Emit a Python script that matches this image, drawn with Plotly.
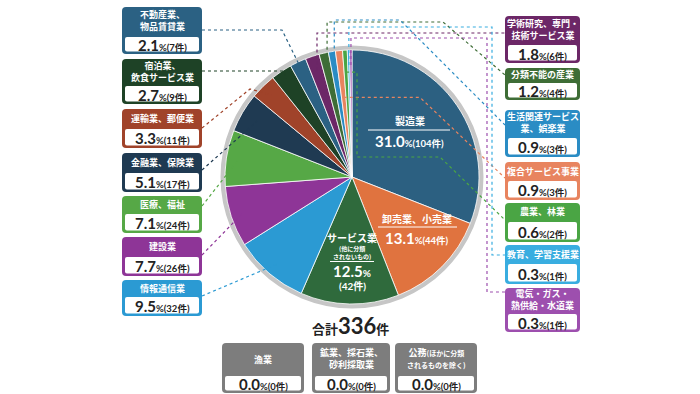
import math
import plotly.graph_objects as go

# ---------------- data ----------------
industries = ["製造業", "卸売業、小売業", "サービス業（他に分類されないもの）", "情報通信業", "建設業",
              "医療、福祉", "金融業、保険業", "運輸業、郵便業", "宿泊業、飲食サービス業",
              "不動産業、物品賃貸業", "学術研究、専門・技術サービス業", "分類不能の産業",
              "生活関連サービス業、娯楽業", "複合サービス事業", "農業、林業", "教育、学習支援業",
              "電気・ガス・熱供給・水道業"]
counts = [104, 44, 42, 32, 26, 24, 17, 11, 9, 7, 6, 4, 3, 3, 2, 1, 1]
percents = ["31.0", "13.1", "12.5", "9.5", "7.7", "7.1", "5.1", "3.3", "2.7", "2.1", "1.8", "1.2",
            "0.9", "0.9", "0.6", "0.3", "0.3"]
colors = ["#2c6081", "#e0733f", "#2f6a3c", "#2b9ad3", "#8e3597", "#56a846", "#1f3a52", "#a0432a",
          "#1e4226", "#2b6183", "#6c2767", "#3e6d36", "#2a8cc4", "#e8845f", "#4aa544", "#39ade0",
          "#9d4fae"]
box_titles = {
    3: ["情報通信業"], 4: ["建設業"], 5: ["医療、福祉"], 6: ["金融業、保険業"], 7: ["運輸業、郵便業"],
    8: ["宿泊業、", "飲食サービス業"], 9: ["不動産業、", "物品賃貸業"],
    10: ["学術研究、専門・", "技術サービス業"], 11: ["分類不能の産業"],
    12: ["生活関連サービス", "業、娯楽業"], 13: ["複合サービス事業"], 14: ["農業、林業"],
    15: ["教育、学習支援業"], 16: ["電気・ガス・", "熱供給・水道業"],
}
zero_titles = [["漁業"], ["鉱業、採石業、", "砂利採取業"],
               ["公務<span style='font-size:7px'>(ほかに分類</span>",
                "<span style='font-size:7px'>されるものを除く)</span>"]]
zero_pct = ["0.0", "0.0", "0.0"]
zero_counts = [0, 0, 0]
total = sum(counts)

W, H = 700, 394
CX, CY, R = 352, 177, 127

def px(x):
    return x / W

def py(y):
    return 1 - y / H

def rrect(x0, y0, x1, y1, r):
    pts = [
        ("M", [(x0 + r, y0)]), ("L", [(x1 - r, y0)]), ("Q", [(x1, y0), (x1, y0 + r)]),
        ("L", [(x1, y1 - r)]), ("Q", [(x1, y1), (x1 - r, y1)]), ("L", [(x0 + r, y1)]),
        ("Q", [(x0, y1), (x0, y1 - r)]), ("L", [(x0, y0 + r)]), ("Q", [(x0, y0), (x0 + r, y0)]),
    ]
    s = ""
    for cmd, ps in pts:
        s += cmd + " " + " ".join(f"{px(a):.5f},{py(b):.5f}" for a, b in ps) + " "
    return s + "Z"

cum = []
acc = 0
for c in counts:
    cum.append((acc + c / 2) / total)
    acc += c

def slice_pt(i, r):
    t = 2 * math.pi * cum[i]
    return (CX + r * math.sin(t), CY - r * math.cos(t))

fig = go.Figure()
fig.add_trace(go.Pie(
    values=counts, labels=industries, sort=False, direction="clockwise", rotation=0,
    marker=dict(colors=colors, line=dict(color="white", width=0.8)),
    textinfo="none", hoverinfo="label+value+percent",
    domain=dict(x=[px(CX - R), px(CX + R)], y=[py(CY + R), py(CY - R)]),
    showlegend=False,
))

shapes = []
annotations = []

# gray ring behind the pie
shapes.append(dict(type="circle", xref="paper", yref="paper", layer="below",
                   x0=px(CX - R - 4.5), x1=px(CX + R + 4.5), y0=py(CY + R + 4.5), y1=py(CY - R - 4.5),
                   fillcolor="#c6c6c6", line=dict(width=0)))

NUM_FONT = "Lato, 'Noto Sans CJK JP', sans-serif"
JP_FONT = "'Noto Sans CJK JP', sans-serif"

def add_box(x0, y0, x1, y1, wtop, color, title_lines, pct, cnt, tsize=9):
    shapes.append(dict(type="path", xref="paper", yref="paper", path=rrect(x0, y0, x1, y1, 4),
                       fillcolor=color, line=dict(width=0)))
    shapes.append(dict(type="path", xref="paper", yref="paper",
                       path=rrect(x0 + 3, wtop, x1 - 3, y1 - 2.5, 2),
                       fillcolor="white", line=dict(width=0)))
    tc = (y0 + wtop) / 2 - (1.5 if len(title_lines) > 1 else 0.5)
    title = "<br>".join(f"<b>{line}</b>" for line in title_lines)
    annotations.append(dict(x=px((x0 + x1) / 2), y=py(tc), xref="paper", yref="paper",
                            text=title, showarrow=False,
                            font=dict(family=JP_FONT, size=tsize, color="white"),
                            xanchor="center", yanchor="middle"))
    annotations.append(dict(x=px((x0 + x1) / 2), y=py((wtop + y1 - 2.5) / 2 + 0.8), xref="paper",
                            yref="paper",
                            text=f"<b>{pct}</b><span style='font-size:9.5px'><b>%({cnt}件)</b></span>",
                            showarrow=False, font=dict(family=NUM_FONT, size=15, color="#222222"),
                            xanchor="center", yanchor="middle"))

# left column boxes: (index, top, bottom, white top)
left_boxes = [(9, 7, 54, 37), (8, 59, 104, 86), (7, 109, 148, 129), (6, 153, 192, 173),
              (5, 196, 233, 214), (4, 237, 276, 257), (3, 280, 316, 297)]
for i, t, b, w in left_boxes:
    add_box(122, t, 202, b, w, colors[i], box_titles[i], percents[i], counts[i])

right_boxes = [(10, 16, 63, 45), (11, 68, 100, 83), (12, 110, 157, 138), (13, 162, 200, 181),
               (14, 203, 242, 222), (15, 245, 284, 264), (16, 288, 332, 314)]
for i, t, b, w in right_boxes:
    add_box(505, t, 580, b, w, colors[i], box_titles[i], percents[i], counts[i])

zero_x = [(222, 304), (312, 390), (395, 477)]
for (x0, x1), tl, p, c in zip(zero_x, zero_titles, zero_pct, zero_counts):
    add_box(x0, 343, x1, 393, 376, "#7d7d7d", tl, p, c)

# connectors
def connector(i, pts):
    d = "M " + " L ".join(f"{px(a):.5f},{py(b):.5f}" for a, b in pts)
    shapes.append(dict(type="path", xref="paper", yref="paper", path=d,
                       line=dict(color=colors[i], width=1.2, dash="dot")))

connector(9, [(202, 30), (282, 30), slice_pt(9, 120)])
connector(8, [(202, 71), (284, 71), slice_pt(8, 118)])
connector(7, [(202, 128), (250, 89), slice_pt(7, 115)])
connector(6, [(202, 170), slice_pt(6, 110)])
connector(5, [(202, 206), slice_pt(5, 115)])
connector(4, [(202, 255), slice_pt(4, 115)])
connector(3, [(202, 296), slice_pt(3, 115)])

p = slice_pt(10, 112)
connector(10, [p, (p[0], 33), (505, 33)])
p = slice_pt(11, 112)
connector(11, [p, (p[0], 22), (443, 22), (505, 75)])
p = slice_pt(12, 112)
connector(12, [p, (p[0], 20), (400, 20), (505, 125)])
p = slice_pt(13, 80)
connector(13, [p, (420, p[1]), (505, 178)])
p = slice_pt(14, 105)
connector(14, [p, (357, p[1]), (357, 157), (440, 157), (505, 220)])
p = slice_pt(15, 112)
connector(15, [p, (p[0], 27), (492, 27), (492, 255), (505, 255)])
p = slice_pt(16, 112)
connector(16, [p, (p[0], 38), (487, 38), (487, 292), (505, 292)])

# labels inside the pie
def white_line(x0, x1, y):
    shapes.append(dict(type="line", xref="paper", yref="paper", x0=px(x0), x1=px(x1),
                       y0=py(y), y1=py(y), line=dict(color="white", width=1)))

def txt(x, y, s, size, family=JP_FONT, color="white"):
    annotations.append(dict(x=px(x), y=py(y), xref="paper", yref="paper", text=s, showarrow=False,
                            font=dict(family=family, size=size, color=color),
                            xanchor="center", yanchor="middle"))

txt(410, 121, "<b>製造業</b>", 10)
white_line(368, 450, 130)
txt(409, 141, f"<b>{percents[0]}</b><span style='font-size:9.5px'><b>%({counts[0]}件)</b></span>", 15, NUM_FONT)
txt(417, 219, "<b>卸売業、小売業</b>", 10)
white_line(378, 457, 227)
txt(417, 238, f"<b>{percents[1]}</b><span style='font-size:9.5px'><b>%({counts[1]}件)</b></span>", 15, NUM_FONT)
txt(352, 237, "<b>サービス業</b>", 10)
txt(352, 252, "<b>(他に分類<br>されないもの)</b>", 6)
white_line(330, 374, 261.5)
txt(352, 271, f"<b>{percents[2]}</b><span style='font-size:10px'><b>%</b></span>", 15, NUM_FONT)
txt(352, 286, f"<b>({counts[2]}件)</b>", 10, NUM_FONT)

# total
txt(350, 325, f"<b><span style='font-size:13px'>合計</span>{total}<span style='font-size:13px'>件</span></b>",
    22, NUM_FONT, "#222222")

fig.update_layout(width=W, height=H, autosize=False, margin=dict(l=0, r=0, t=0, b=0),
                  paper_bgcolor="white", plot_bgcolor="white",
                  shapes=shapes, annotations=annotations)

fig.write_html("out.html", config={"displayModeBar": False},
               post_script="document.body.style.margin='0';")
